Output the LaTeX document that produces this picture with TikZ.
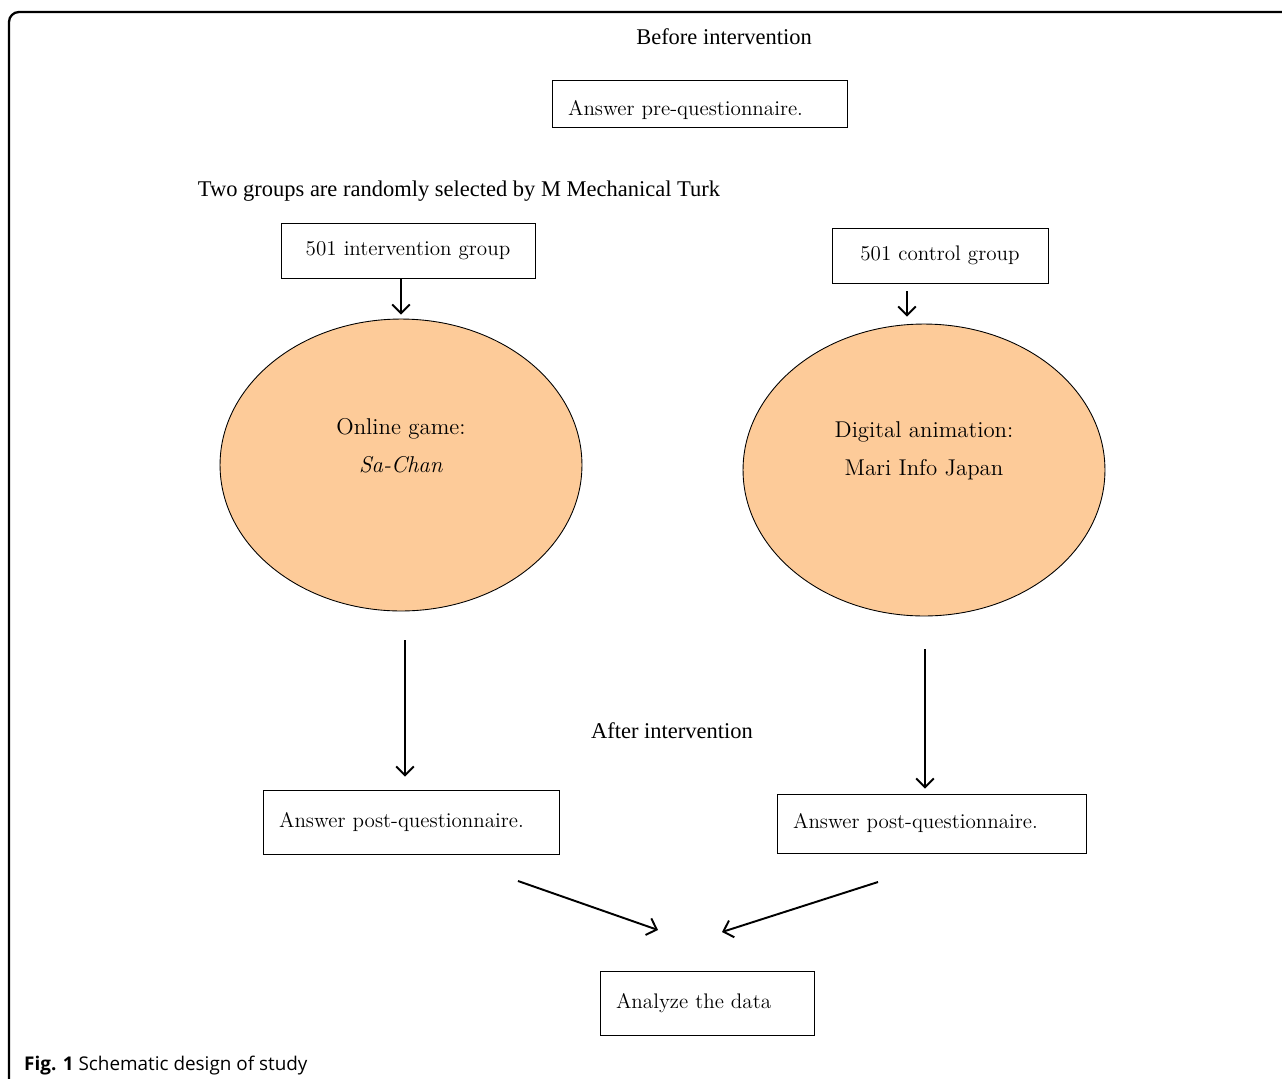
\documentclass[tikz,border=0pt]{standalone}
\usepackage{fontspec}
\newfontfamily\timesf{Liberation Serif}
\newfontfamily\capf{Open Sans}
\usetikzlibrary{arrows.meta,shapes.geometric}
\definecolor{peach}{HTML}{FDCB99}
\begin{document}
\begin{tikzpicture}[x=0.02cm, y=-0.02cm,
    box/.style={draw, line width=0.5pt, inner xsep=0pt, align=left, font=\fontsize{12}{14}\selectfont},
    blob/.style={ellipse, draw, line width=0.5pt, fill=peach, minimum width=7.24cm, minimum height=5.84cm},
    blobtext/.style={align=center, font=\fontsize{13}{21.5}\selectfont},
    head/.style={font=\timesf\fontsize{12.8}{15}\selectfont},
    arr/.style={-{Straight Barb[length=5pt, width=10pt]}, line width=1.1pt}]
    \useasboundingbox (0,0) rectangle (1282,1079);
    % frame
    \draw[line width=1.3pt, rounded corners=0.2cm] (9,1090) -- (9,12) -- (1295,12);
    % headings
    \node[head] (before) at (724,37) {Before intervention};
    \node[head] (select) at (459,191) {Two groups are randomly selected by M Mechanical Turk};
    \node[head] (after) at (672,731) {After intervention};
    % boxes
    \node[box, minimum width=5.9cm, minimum height=0.94cm, text width=5.26cm, text height=0.55cm] (pre) at (699.5,103.5) {Answer pre-questionnaire.};
    \node[box, minimum width=5.08cm, minimum height=1.1cm, align=center, text width=5.08cm] (grpA) at (408,250.5) {501 intervention group};
    \node[box, minimum width=4.32cm, minimum height=1.1cm, align=center, text width=4.32cm] (grpB) at (940,255.5) {501 control group};
    \node[blob] (ellA) at (401,465) {};
    \node[blob] (ellB) at (924,470) {};
    \node[blobtext] (gameA) at (401,446) {Online game:\\\textit{Sa-Chan}};
    \node[blobtext] (gameB) at (924,451) {Digital animation:\\Mari Info Japan};
    \node[box, minimum width=5.92cm, minimum height=1.28cm, text width=5.28cm] (postA) at (411,822) {Answer post-questionnaire.};
    \node[box, minimum width=6.18cm, minimum height=1.18cm, text width=5.54cm] (postB) at (931.5,823.5) {Answer post-questionnaire.};
    \node[box, minimum width=4.28cm, minimum height=1.28cm, text width=3.64cm] (ana) at (707,1003) {Analyze the data};
    % arrows
    \coordinate (fromA) at (518,881);
    \coordinate (toA) at (658,930);
    \coordinate (fromB) at (878,882);
    \coordinate (toB) at (722,932);
    \draw[arr, shorten >=0.08cm] (ellA.north |- grpA.south) -- (ellA.north);
    \draw[arr, shorten <=0.16cm, shorten >=0.14cm] ([xshift=-0.34cm]ellB.north |- grpB.south) -- ([xshift=-0.34cm]ellB.north);
    \draw[arr, shorten <=0.58cm, shorten >=0.26cm] ([xshift=0.08cm]ellA.south) -- ([xshift=0.08cm]ellA.south |- postA.north);
    \draw[arr, shorten <=0.66cm, shorten >=0.1cm] ([xshift=0.02cm]ellB.south) -- ([xshift=0.02cm]ellB.south |- postB.north);
    \draw[arr] (fromA) -- (toA);
    \draw[arr] (fromB) -- (toB);
    % caption
    \node[anchor=west, font=\capf\fontsize{10.75}{13}\selectfont] (cap) at (18,1066) {\textbf{Fig. 1} Schematic design of study};
\end{tikzpicture}
\end{document}
